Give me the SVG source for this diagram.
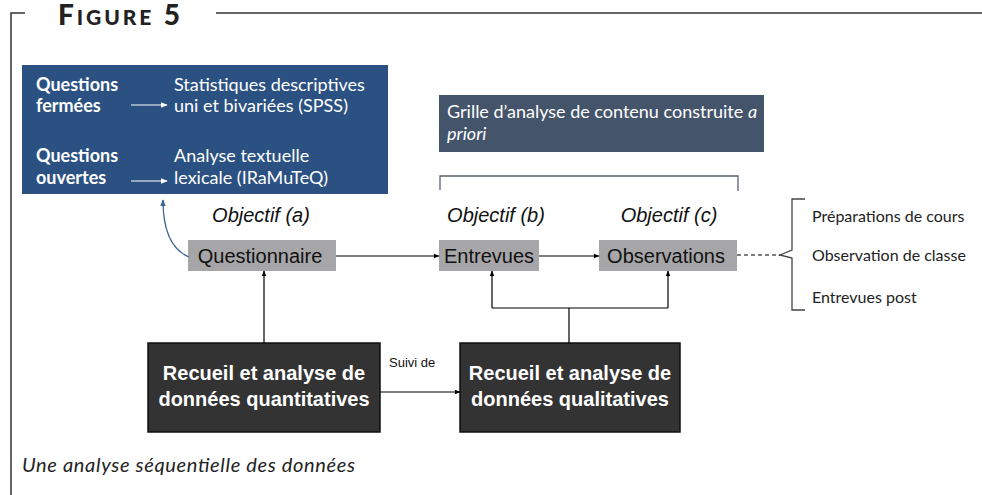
<svg xmlns="http://www.w3.org/2000/svg" width="982" height="495" viewBox="0 0 982 495">
<style>
.frame{stroke:#333;stroke-width:1.5;fill:none}
.ln{stroke:#000;stroke-width:1.2;fill:none}
.gray{fill:#a6a6a8}
.dark{fill:#333333;stroke:#111;stroke-width:1.5}
.w{fill:#fff;font-family:Lato,"Open Sans",sans-serif;font-size:18px}
.wb{font-weight:bold}
.node{font-family:"Liberation Sans",Arial,sans-serif;font-size:20px;fill:#111}
.obj{font-family:"Liberation Sans",Arial,sans-serif;font-size:20px;font-style:italic;fill:#111}
.big{font-family:"Liberation Sans",Arial,sans-serif;font-size:20px;font-weight:bold;fill:#fff}
.side{font-family:Lato,"Open Sans",sans-serif;font-size:16px;fill:#222}
</style>
<defs>
<marker id="ah" viewBox="0 0 10 10" refX="9" refY="5" markerWidth="6" markerHeight="6" orient="auto" markerUnits="userSpaceOnUse"><path d="M0,1 L10,5 L0,9 z" fill="#000"/></marker>
<marker id="ahw" viewBox="0 0 10 10" refX="9" refY="5" markerWidth="7" markerHeight="7" orient="auto" markerUnits="userSpaceOnUse"><path d="M0,1 L10,5 L0,9 z" fill="#fff"/></marker>
<marker id="ahb" viewBox="0 0 10 10" refX="9" refY="5" markerWidth="7" markerHeight="7" orient="auto" markerUnits="userSpaceOnUse"><path d="M0,1 L10,5 L0,9 z" fill="#3d6591"/></marker>
</defs>
<g id="frame">
<path class="frame" d="M11,495 V13 H25"/>
<path class="frame" d="M216,13 H982"/>
<text x="58" y="25" font-family="Lato,'Open Sans',sans-serif" font-weight="900" font-size="28" fill="#222" letter-spacing="3" textLength="125">F<tspan font-size="21">IGURE</tspan> 5</text>
</g>
<g id="blue-box">
<rect x="22" y="65" width="366" height="129" fill="#2b5182"/>
<text class="w wb" x="36" y="91">Questions</text>
<text class="w wb" x="36" y="112">fermées</text>
<text class="w" x="174" y="91">Statistiques descriptives</text>
<text class="w" x="174" y="112">uni et bivariées (SPSS)</text>
<text class="w wb" x="36" y="162">Questions</text>
<text class="w wb" x="36" y="184">ouvertes</text>
<text class="w" x="174" y="162">Analyse textuelle</text>
<text class="w" x="174" y="184">lexicale (IRaMuTeQ)</text>
<path d="M131,105 H167" stroke="#fff" stroke-width="1.2" marker-end="url(#ahw)"/>
<path d="M131,181 H167" stroke="#fff" stroke-width="1.2" marker-end="url(#ahw)"/>
</g>
<g id="grille">
<rect x="439" y="95" width="325" height="57" fill="#44546a"/>
<text class="w" x="447" y="118">Grille d’analyse de contenu construite <tspan font-style="italic">a</tspan></text>
<text class="w" x="447" y="140" font-style="italic">priori</text>
</g>
<g id="questionnaire">
<text class="obj" x="261" y="222" text-anchor="middle">Objectif (a)</text>
<rect class="gray" x="188" y="240" width="148" height="31"/>
<text class="node" x="260" y="263" text-anchor="middle">Questionnaire</text>
</g>
<g id="entrevues">
<text class="obj" x="496" y="222" text-anchor="middle">Objectif (b)</text>
<rect class="gray" x="439" y="240" width="100" height="31"/>
<text class="node" x="489" y="263" text-anchor="middle">Entrevues</text>
</g>
<g id="observations">
<text class="obj" x="669" y="222" text-anchor="middle">Objectif (c)</text>
<rect class="gray" x="599" y="240" width="138" height="31"/>
<text class="node" x="666" y="263" text-anchor="middle">Observations</text>
</g>
<g id="quant">
<rect class="dark" x="148" y="343" width="232" height="89"/>
<text class="big" x="264" y="380" text-anchor="middle">Recueil et analyse de</text>
<text class="big" x="264" y="406" text-anchor="middle">données quantitatives</text>
</g>
<g id="qual">
<rect class="dark" x="460" y="343" width="220" height="89"/>
<text class="big" x="570" y="380" text-anchor="middle">Recueil et analyse de</text>
<text class="big" x="570" y="406" text-anchor="middle">données qualitatives</text>
</g>
<g id="side-list">
<text class="side" x="812" y="222">Préparations de cours</text>
<text class="side" x="812" y="261">Observation de classe</text>
<text class="side" x="812" y="303">Entrevues post</text>
</g>
<g id="connectors">
<path d="M440,190 V176 H738 V191" stroke="#5a6270" stroke-width="1.3" fill="none"/>
<path d="M805,199 H792 V250 L780,255 L792,258 V310 H805" stroke="#444" stroke-width="1.3" fill="none"/>
<path d="M737,255 H780" stroke="#000" stroke-width="1.2" stroke-dasharray="4,3"/>
<path d="M189,257 C172,250 163,232 163,200" stroke="#3d6591" stroke-width="1.3" fill="none" marker-end="url(#ahb)"/>
<path class="ln" d="M336,256 H439" marker-end="url(#ah)"/>
<path class="ln" d="M539,256 H599" marker-end="url(#ah)"/>
<path class="ln" d="M264,343 V271" marker-end="url(#ah)"/>
<path class="ln" d="M569,343 V308 M492,308 H668"/>
<path class="ln" d="M492,308 V271" marker-end="url(#ah)"/>
<path class="ln" d="M668,308 V271" marker-end="url(#ah)"/>
<path class="ln" d="M380,392 H460" marker-end="url(#ah)"/>
<text x="389" y="367" font-family="'Liberation Sans',Arial,sans-serif" font-size="13" fill="#111">Suivi de</text>
</g>
<text x="22" y="472" font-family="Lato,'Open Sans',sans-serif" font-style="italic" font-size="20" fill="#222" textLength="333">Une analyse séquentielle des données</text>
</svg>
